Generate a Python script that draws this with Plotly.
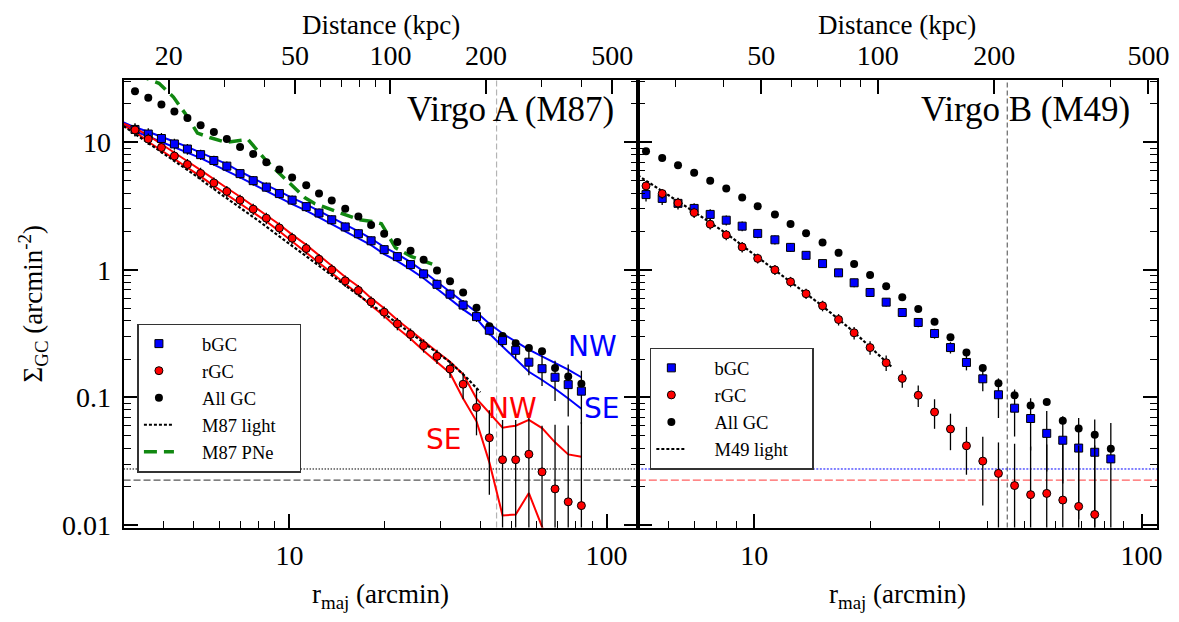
import plotly.graph_objects as go

# ---------------- data ----------------
KPC_PER_ARCMIN = 4.8
R_CUT = 45.0                      # vertical dashed marker (arcmin)
BG_BLUE = 0.0275                  # background levels
BG_RED = 0.0225

# ---- Virgo A (M87) ----
R_A = [3.26, 3.59, 3.95, 4.34, 4.77, 5.25, 5.78, 6.35, 6.99, 7.69, 8.46, 9.30,
       10.2, 11.3, 12.4, 13.6, 15.0, 16.5, 18.1, 19.9, 21.9, 24.1, 26.5, 29.2,
       32.1, 35.3, 38.9, 42.7, 47.0, 51.7, 56.9, 62.6, 68.8, 75.7, 83.3]
BGC_A = [12.6, 11.6, 10.7, 9.7, 8.85, 8.0, 7.2, 6.5, 5.68, 5.0, 4.45, 3.96,
         3.52, 3.13, 2.79, 2.47, 2.17, 1.92, 1.69, 1.44, 1.27, 1.10, 0.93, 0.77,
         0.645, 0.53, 0.43, 0.336, 0.279, 0.234, 0.189, 0.168, 0.144, 0.126, 0.112]
BGC_A_ERR = [1.5, 1.3, 1.1, 0.95, 0.85, 0.75, 0.65, 0.58, 0.5, 0.44, 0.38, 0.34,
             0.3, 0.27, 0.24, 0.21, 0.18, 0.16, 0.14, 0.12, 0.105, 0.09, 0.08, 0.07,
             0.06, 0.05, 0.04, 0.03, 0.03, 0.035, 0.04, 0.045, 0.05, 0.055, 0.05]
RGC_A = [12.5, 10.6, 9.1, 7.8, 6.7, 5.7, 4.8, 4.12, 3.52, 2.99, 2.54, 2.13,
         1.77, 1.47, 1.21, 1.0, 0.82, 0.69, 0.56, 0.466, 0.378, 0.312, 0.255, 0.21,
         0.167, 0.127, 0.0835, 0.0483, 0.0325, 0.0325, 0.0359, 0.0261, 0.0192, 0.0152, 0.0142]
RGC_A_ERR = [1.3, 1.1, 0.95, 0.8, 0.7, 0.6, 0.5, 0.42, 0.36, 0.3, 0.26, 0.22,
             0.18, 0.15, 0.12, 0.1, 0.085, 0.07, 0.058, 0.05, 0.042, 0.035, 0.03, 0.027,
             0.025, 0.03, 0.033, 0.031, 0.034, 0.034, 0.04, 0.034, 0.042, 0.045, 0.05]
ALL_A = [25.1, 22.3, 19.8, 17.4, 15.5, 13.6, 12.05, 10.6, 9.2, 8.1, 6.97, 6.12,
         5.3, 4.6, 3.96, 3.50, 3.01, 2.62, 2.25, 1.92, 1.65, 1.41, 1.20, 0.99,
         0.815, 0.665, 0.505, 0.361, 0.303, 0.266, 0.244, 0.23, 0.17, 0.146, 0.128]

R_LINE_A = [3.0, 3.26, 3.59, 3.95, 4.34, 4.77, 5.25, 5.78, 6.35, 6.99, 7.69, 8.46,
            9.30, 10.2, 11.3, 12.4, 13.6, 15.0, 16.5, 18.1, 19.9, 21.9, 24.1, 26.5,
            29.2, 32.1, 35.3, 38.9, 42.7, 47.0, 51.7, 56.9, 62.6, 68.8, 75.7, 83.3]
BLUE_NW_A = [14.3, 13.1, 12.1, 11.1, 10.1, 9.2, 8.3, 7.5, 6.75, 5.9, 5.2, 4.62,
             4.12, 3.66, 3.26, 2.90, 2.57, 2.26, 2.0, 1.76, 1.51, 1.33, 1.15, 0.97,
             0.81, 0.675, 0.56, 0.465, 0.378, 0.317, 0.272, 0.237, 0.21, 0.187, 0.165, 0.144]
BLUE_SE_A = [13.9, 12.2, 11.1, 10.1, 9.1, 8.3, 7.5, 6.7, 6.0, 5.3, 4.7, 4.15,
             3.68, 3.27, 2.91, 2.58, 2.28, 2.0, 1.77, 1.56, 1.33, 1.17, 1.01, 0.86,
             0.71, 0.59, 0.49, 0.415, 0.317, 0.251, 0.199, 0.159, 0.137, 0.117, 0.098, 0.0815]
RED_NW_A = [14.0, 12.9, 11.3, 9.7, 8.3, 7.1, 6.05, 5.1, 4.38, 3.74, 3.18, 2.70,
            2.27, 1.89, 1.57, 1.30, 1.07, 0.88, 0.74, 0.60, 0.50, 0.405, 0.335, 0.275,
            0.228, 0.19, 0.152, 0.098, 0.075, 0.058, 0.060, 0.0668, 0.0575, 0.0445, 0.0358, 0.0343]
RED_SE_A = [13.5, 12.1, 10.1, 8.65, 7.4, 6.35, 5.4, 4.55, 3.9, 3.33, 2.83, 2.4,
            2.01, 1.67, 1.38, 1.14, 0.94, 0.77, 0.645, 0.525, 0.435, 0.35, 0.288, 0.232,
            0.19, 0.155, 0.098, 0.065, 0.031, 0.0119, 0.0121, 0.0178, 0.0097, 0.006, 0.005, 0.005]

R_LIGHT_A = [3.0, 4.0, 5.0, 6.0, 7.0, 8.0, 10.0, 12.0, 14.0, 16.0, 18.0, 20.0,
             24.0, 28.0, 32.0, 36.0, 40.0]
LIGHT_A = [13.4, 8.2, 5.6, 4.02, 3.06, 2.42, 1.60, 1.14, 0.86, 0.67, 0.54, 0.45,
           0.322, 0.243, 0.19, 0.145, 0.11]

R_PNE = [3.3, 3.88, 4.31, 4.70, 5.13, 5.61, 6.31, 7.41, 8.45, 10.1, 11.2, 12.0,
         13.5, 16.6, 18.7, 19.5, 21.6, 24.3, 28.2]
PNE = [34.0, 29.0, 22.6, 16.7, 11.8, 10.9, 10.0, 10.5, 7.18, 4.63, 3.67, 3.31,
       2.99, 2.47, 2.37, 2.3, 1.49, 1.27, 1.11]

# ---- Virgo B (M49) ----
R_B = [5.25, 5.78, 6.35, 6.99, 7.69, 8.46, 9.30, 10.2, 11.3, 12.4, 13.6, 15.0,
       16.5, 18.1, 19.9, 21.9, 24.1, 26.5, 29.2, 32.1, 35.3, 38.9, 42.7, 47.0,
       51.7, 56.9, 62.6, 68.8, 75.7, 83.3]
ALL_B = [8.5, 7.52, 6.61, 5.78, 5.0, 4.35, 3.69, 3.15, 2.71, 2.29, 1.94, 1.64,
         1.36, 1.11, 0.91, 0.743, 0.609, 0.494, 0.392, 0.296, 0.225, 0.170, 0.129, 0.104,
         0.0863, 0.092, 0.0656, 0.057, 0.051, 0.0396]
BGC_B = [3.89, 3.63, 3.32, 3.03, 2.72, 2.45, 2.20, 1.93, 1.72, 1.50, 1.30, 1.12,
         0.948, 0.792, 0.665, 0.558, 0.463, 0.387, 0.317, 0.246, 0.188, 0.140, 0.105, 0.0824,
         0.0684, 0.0523, 0.0462, 0.0401, 0.0372, 0.0330]
BGC_B_ERR = [0.45, 0.4, 0.35, 0.3, 0.26, 0.22, 0.19, 0.16, 0.14, 0.12, 0.1, 0.085,
             0.07, 0.06, 0.05, 0.042, 0.036, 0.032, 0.028, 0.025, 0.025, 0.028, 0.036, 0.033,
             0.03, 0.026, 0.025, 0.029, 0.03, 0.03]
RGC_B = [4.55, 3.96, 3.34, 2.81, 2.28, 1.88, 1.51, 1.23, 1.0, 0.806, 0.65, 0.523,
         0.408, 0.321, 0.246, 0.187, 0.141, 0.104, 0.0768, 0.0566, 0.0418, 0.0317, 0.0254, 0.0204,
         0.0173, 0.0177, 0.0157, 0.0140, 0.0121, None]
RGC_B_ERR = [0.4, 0.35, 0.3, 0.26, 0.21, 0.17, 0.14, 0.11, 0.09, 0.075, 0.06, 0.05,
             0.042, 0.036, 0.03, 0.026, 0.022, 0.02, 0.02, 0.018, 0.017, 0.0175, 0.019, 0.023,
             0.024, 0.025, 0.027, 0.028, 0.03, None]
R_LIGHT_B = [5.0, 5.78, 6.99, 8.46, 10.2, 12.4, 15.0, 18.1, 21.9, 22.7]
LIGHT_B = [5.5, 4.15, 2.85, 1.93, 1.26, 0.81, 0.52, 0.325, 0.19, 0.172]

# tick labels
X_TICKS = [10, 100]
Y_TICKS = [0.01, 0.1, 1, 10]
Y_TICKTEXT = ["0.01", "0.1", "1", "10"]
KPC_TICKS = [20, 50, 100, 200, 500]
X_MINOR = [4, 5, 6, 7, 8, 9, 20, 30, 40, 50, 60, 70, 80, 90]
Y_MINOR = [0.02, 0.03, 0.04, 0.05, 0.06, 0.07, 0.08, 0.09, 0.2, 0.3, 0.4, 0.5,
           0.6, 0.7, 0.8, 0.9, 2, 3, 4, 5, 6, 7, 8, 9, 20, 30]
KPC_MINOR = [30, 40, 60, 70, 80, 90, 300, 400, 600]

# ---------------- figure ----------------
SERIF = "Liberation Serif"
SANS = "DejaVu Sans"
BLUE = "#0000ff"
RED = "#ff0000"
GREEN = "#118811"
NB = "\u00a0"

fig = go.Figure()


def line(x, y, color, xa, ya, width=2, dash=None, name=None, legend=None, show=False, rank=None):
    fig.add_trace(go.Scatter(x=x, y=y, mode="lines", xaxis=xa, yaxis=ya,
                             line=dict(color=color, width=width, dash=dash),
                             name=name, showlegend=show, legend=legend,
                             legendrank=rank, hoverinfo="skip"))


def pts(x, y, err, symbol, color, size, xa, ya, name, legend, rank, outline=True):
    fig.add_trace(go.Scatter(
        x=x, y=y, mode="markers", xaxis=xa, yaxis=ya, name=name,
        legend=legend, legendrank=rank, showlegend=True,
        marker=dict(symbol=symbol, color=color, size=size,
                    line=dict(color="black", width=1 if outline else 0)),
        error_y=(dict(type="data", array=err, visible=True, color="black",
                      thickness=1.3, width=0) if err is not None else None)))


def lab(s):
    return NB * 5 + s + NB * 4


# ---- Virgo A panel ----
line(R_LINE_A, BLUE_NW_A, BLUE, "x", "y")
line(R_LINE_A, BLUE_SE_A, BLUE, "x", "y")
line(R_LINE_A, RED_NW_A, RED, "x", "y")
line(R_LINE_A, RED_SE_A, RED, "x", "y")
line(R_PNE, PNE, GREEN, "x", "y", width=3.5, dash="13px,7px",
     name=lab("M87 PNe"), legend="legend", show=True, rank=5)
line(R_LIGHT_A, LIGHT_A, "black", "x", "y", width=2.2, dash="3px,2px",
     name=lab("M87 light"), legend="legend", show=True, rank=4)
pts(R_A, ALL_A, None, "circle", "black", 8, "x", "y", lab("All GC"), "legend", 3, outline=False)
pts(R_A, BGC_A, BGC_A_ERR, "square", BLUE, 8, "x", "y", lab("bGC"), "legend", 1)
pts(R_A, RGC_A, RGC_A_ERR, "circle", RED, 8, "x", "y", lab("rGC"), "legend", 2)

# ---- Virgo B panel ----
line(R_LIGHT_B, LIGHT_B, "black", "x2", "y2", width=2.2, dash="3px,2px",
     name=lab("M49 light"), legend="legend2", show=True, rank=4)
pts(R_B, ALL_B, None, "circle", "black", 8, "x2", "y2", lab("All GC"), "legend2", 3, outline=False)
pts(R_B, BGC_B, BGC_B_ERR, "square", BLUE, 8, "x2", "y2", lab("bGC"), "legend2", 1)
pts(R_B, RGC_B, RGC_B_ERR, "circle", RED, 8, "x2", "y2", lab("rGC"), "legend2", 2)

# invisible traces carrying the top (distance in kpc) axes
fig.add_trace(go.Scatter(x=[r * KPC_PER_ARCMIN for r in R_A], y=ALL_A, xaxis="x3", yaxis="y",
                         mode="markers", marker=dict(opacity=0), showlegend=False, hoverinfo="skip"))
fig.add_trace(go.Scatter(x=[r * KPC_PER_ARCMIN for r in R_B], y=ALL_B, xaxis="x4", yaxis="y2",
                         mode="markers", marker=dict(opacity=0), showlegend=False, hoverinfo="skip"))

# ---------------- reference lines ----------------
shapes = []
for xr, yr, vcol, vdash in (("x", "y", "#b4b4b4", "6px,3px"), ("x2", "y2", "#666666", "5px,3px")):
    shapes.append(dict(type="line", xref=xr, yref=yr + " domain", x0=R_CUT, x1=R_CUT, y0=0, y1=1,
                       line=dict(color=vcol, width=1.2, dash=vdash), layer="below"))
shapes.append(dict(type="line", xref="x domain", yref="y", x0=0, x1=1, y0=BG_BLUE, y1=BG_BLUE,
                   line=dict(color="black", width=1, dash="1.5px,1.5px"), layer="below"))
shapes.append(dict(type="line", xref="x domain", yref="y", x0=0, x1=1, y0=BG_RED, y1=BG_RED,
                   line=dict(color="#555555", width=1.3, dash="7px,3px"), layer="below"))
shapes.append(dict(type="line", xref="x2 domain", yref="y2", x0=0, x1=1, y0=BG_BLUE, y1=BG_BLUE,
                   line=dict(color=BLUE, width=1, dash="2px,1.5px"), layer="below"))
shapes.append(dict(type="line", xref="x2 domain", yref="y2", x0=0, x1=1, y0=BG_RED, y1=BG_RED,
                   line=dict(color="#ff6060", width=1.3, dash="8px,3px"), layer="below"))

# ---------------- axes ----------------
tickfont = dict(family=SERIF, size=28, color="black")
common = dict(type="log", showline=True, linecolor="black", linewidth=2, ticks="inside",
              ticklen=14, tickwidth=1.5, tickcolor="black", showgrid=False, zeroline=False,
              tickfont=tickfont)


def minor(vals):
    return dict(ticks="inside", ticklen=7, tickwidth=1.2, tickcolor="black",
                showgrid=False, tickmode="array", tickvals=vals)


DOM_A = [0.0990, 0.5397]
DOM_B = [0.5397, 0.9846]
DOM_Y = [0.1468, 0.8822]
XR_A = [0.4771, 2.0986]
XR_B = [0.699, 2.040]
YR = [-2.02, 1.49]

fig.update_layout(
    width=1179, height=622, margin=dict(l=0, r=0, t=0, b=0),
    paper_bgcolor="white", plot_bgcolor="white", showlegend=True,
    xaxis=dict(common, domain=DOM_A, range=XR_A, anchor="y", tickmode="array",
               tickvals=X_TICKS, ticktext=["10", "100"], minor=minor(X_MINOR),
               ticklabelstandoff=2),
    xaxis2=dict(common, domain=DOM_B, range=XR_B, anchor="y2", tickmode="array",
                tickvals=X_TICKS, ticktext=["10", "100"], minor=minor(X_MINOR),
                ticklabelstandoff=2),
    xaxis3=dict(common, overlaying="x", side="top", anchor="y",
                range=[XR_A[0] + 0.6812, XR_A[1] + 0.6812], tickmode="array",
                tickvals=KPC_TICKS, ticktext=[str(v) for v in KPC_TICKS],
                minor=minor(KPC_MINOR), ticklabelstandoff=2),
    xaxis4=dict(common, overlaying="x2", side="top", anchor="y2",
                range=[XR_B[0] + 0.6812, XR_B[1] + 0.6812], tickmode="array",
                tickvals=KPC_TICKS, ticktext=[str(v) for v in KPC_TICKS],
                minor=minor(KPC_MINOR), ticklabelstandoff=2),
    yaxis=dict(common, domain=DOM_Y, range=YR, anchor="x", mirror="ticks",
               tickmode="array", tickvals=Y_TICKS, ticktext=Y_TICKTEXT,
               minor=minor(Y_MINOR), ticklabelstandoff=5),
    yaxis2=dict(common, domain=DOM_Y, range=YR, anchor="x2", mirror="ticks",
                tickmode="array", tickvals=Y_TICKS, showticklabels=False,
                minor=minor(Y_MINOR)),
    legend=dict(x=0.1109, y=0.4818, xanchor="left", yanchor="top", bgcolor="white",
                bordercolor="#333333", borderwidth=1.5, tracegroupgap=0,
                font=dict(family=SERIF, size=18.5, color="black")),
    legend2=dict(x=0.5500, y=0.4420, xanchor="left", yanchor="top", bgcolor="white",
                 bordercolor="#333333", borderwidth=1.5, tracegroupgap=0,
                 font=dict(family=SERIF, size=18.5, color="black")),
    shapes=shapes,
)

# ---------------- text ----------------
ann = []
titlefont = dict(family=SERIF, size=27, color="black")
for cx in ((DOM_A[0] + DOM_A[1]) / 2, (DOM_B[0] + DOM_B[1]) / 2):
    ann.append(dict(text="r<sub>maj</sub> (arcmin)", xref="paper", yref="paper", x=cx, y=0.034,
                    xanchor="center", yanchor="middle", showarrow=False, font=titlefont))
    ann.append(dict(text="Distance (kpc)", xref="paper", yref="paper", x=cx, y=1.0,
                    xanchor="center", yanchor="top", showarrow=False, font=titlefont))
ann.append(dict(text="Σ<sub>GC</sub> (arcmin<sup>-2</sup>)", xref="paper", yref="paper",
                x=0.021, y=0.514, textangle=-90, xanchor="center", yanchor="middle",
                showarrow=False, font=titlefont))
ann.append(dict(text="Virgo A (M87)", xref="paper", yref="paper", x=0.5208, y=0.834,
                xanchor="right", yanchor="middle", showarrow=False,
                font=dict(family=SERIF, size=35, color="black")))
ann.append(dict(text="Virgo B (M49)", xref="paper", yref="paper", x=0.9635, y=0.834,
                xanchor="right", yanchor="middle", showarrow=False,
                font=dict(family=SERIF, size=35, color="black")))
labfont_b = dict(family=SANS, size=28, color=BLUE)
labfont_r = dict(family=SANS, size=28, color=RED)
for text, lx, ly, f in (("NW", 1.955, -0.604, labfont_b), ("SE", 1.983, -1.083, labfont_b),
                        ("NW", 1.702, -1.083, labfont_r), ("SE", 1.487, -1.330, labfont_r)):
    ann.append(dict(text=text, xref="x", yref="y", x=lx, y=ly, xanchor="center",
                    yanchor="middle", showarrow=False, font=f))
fig.update_layout(annotations=ann)

fig.write_html("out.html")
